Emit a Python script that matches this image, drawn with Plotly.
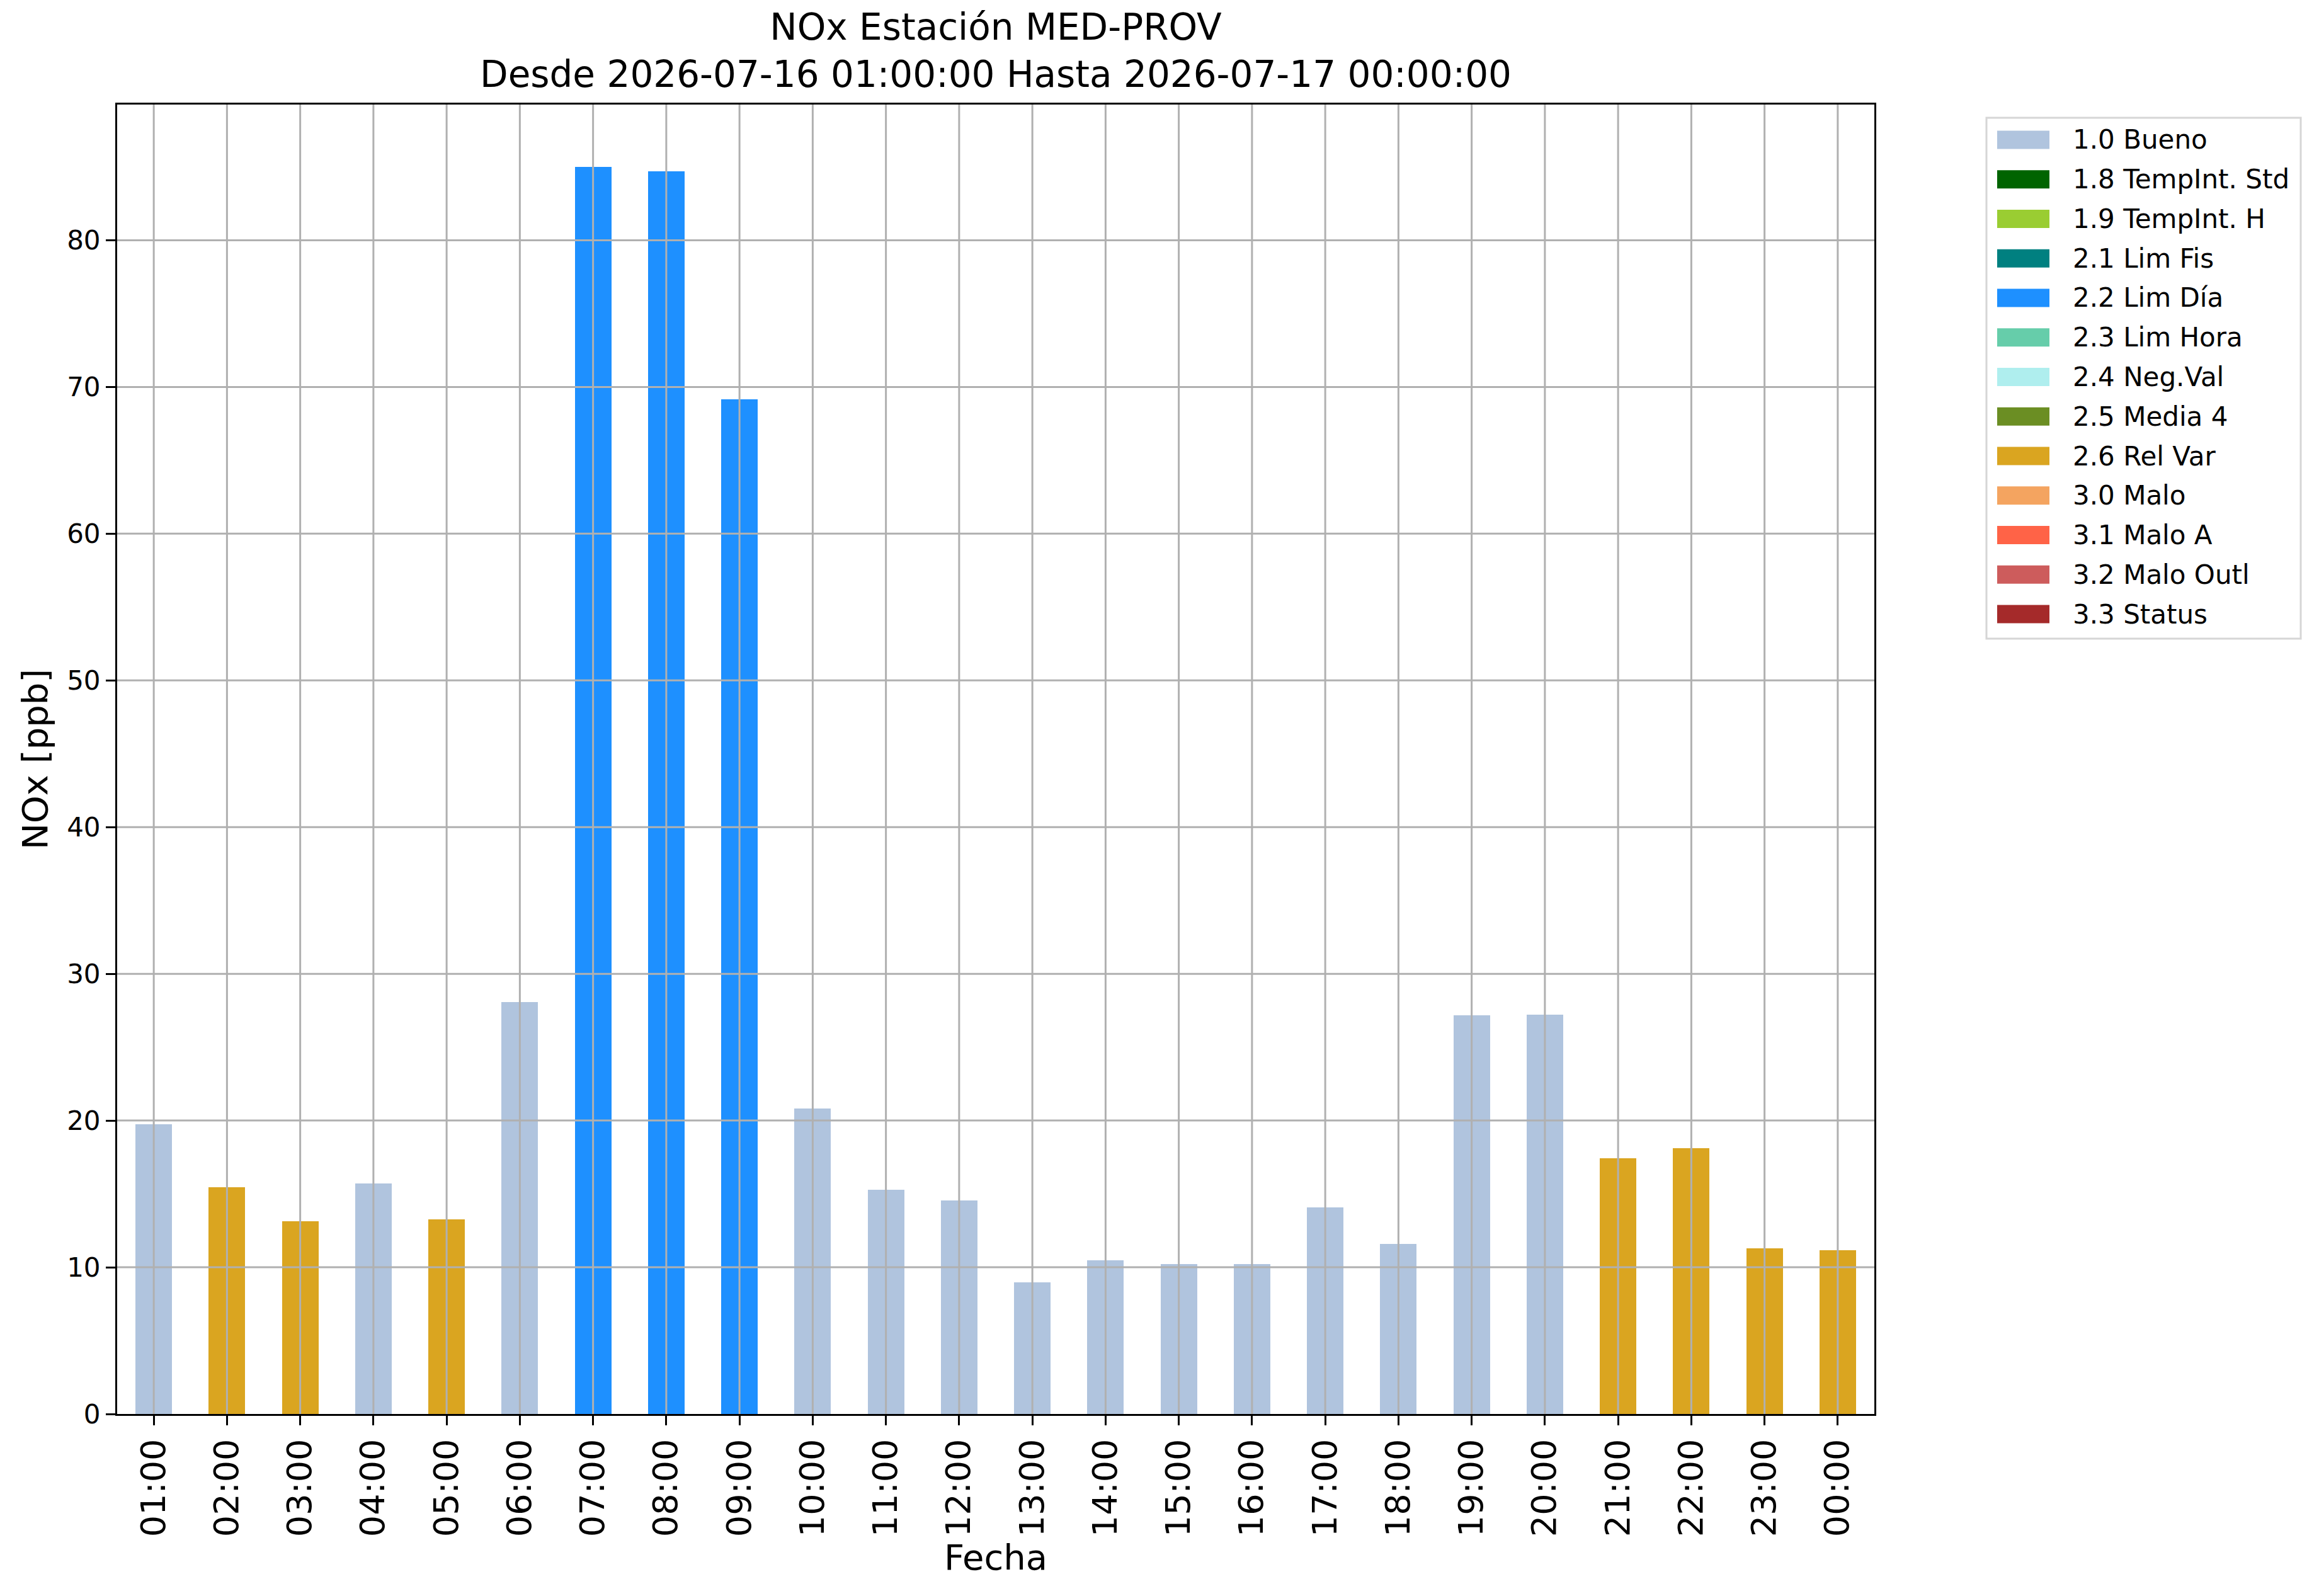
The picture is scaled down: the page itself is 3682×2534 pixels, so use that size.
import plotly.graph_objects as go

# hourly NOx values (ppb) and their validation flag
hours = ["01:00", "02:00", "03:00", "04:00", "05:00", "06:00", "07:00", "08:00",
         "09:00", "10:00", "11:00", "12:00", "13:00", "14:00", "15:00", "16:00",
         "17:00", "18:00", "19:00", "20:00", "21:00", "22:00", "23:00", "00:00"]
nox = [19.74, 15.45, 13.13, 15.70, 13.27, 28.08, 85.00, 84.68,
       69.15, 20.81, 15.29, 14.55, 8.99, 10.46, 10.20, 10.20,
       14.08, 11.58, 27.18, 27.23, 17.45, 18.10, 11.27, 11.16]
flags = ["1.0", "2.6", "2.6", "1.0", "2.6", "1.0", "2.2", "2.2",
         "2.2", "1.0", "1.0", "1.0", "1.0", "1.0", "1.0", "1.0",
         "1.0", "1.0", "1.0", "1.0", "2.6", "2.6", "2.6", "2.6"]

flag_codes = ["1.0", "1.8", "1.9", "2.1", "2.2", "2.3", "2.4", "2.5", "2.6",
              "3.0", "3.1", "3.2", "3.3"]
flag_names = ["Bueno", "TempInt. Std", "TempInt. H", "Lim Fis", "Lim Día",
              "Lim Hora", "Neg.Val", "Media 4", "Rel Var", "Malo", "Malo A",
              "Malo Outl", "Status"]
flag_colors = ["#B0C4DE", "#006400", "#9ACD32", "#008080", "#1E90FF", "#66CDAA",
               "#AFEEEE", "#6B8E23", "#DAA520", "#F4A460", "#FF6347", "#CD5C5C",
               "#A52A2A"]

y_ticks = [0, 10, 20, 30, 40, 50, 60, 70, 80]

FONT = "DejaVu Sans"
W, H = 3682, 2534
L, R, T, B = 186, 2976, 166, 2245  # plot area in pixels


def px_x(p):
    return (p - L) / (R - L)


def px_y(p):
    return (B - p) / (B - T)


fig = go.Figure()

for code, name, color in zip(flag_codes, flag_names, flag_colors):
    vals = [v if f == code else None for v, f in zip(nox, flags)]
    if all(v is None for v in vals):
        continue
    fig.add_trace(go.Bar(
        x=hours, y=vals, width=0.5, name=f"{code} {name}",
        marker=dict(color=color, line=dict(width=0)), showlegend=False,
    ))

shapes = []
grid = dict(color="#b0b0b0", width=3)
for h in hours:
    shapes.append(dict(type="line", xref="x", yref="paper", x0=h, x1=h, y0=0, y1=1,
                       line=grid, layer="above"))
for t in y_ticks[1:]:
    shapes.append(dict(type="line", xref="paper", yref="y", x0=0, x1=1, y0=t, y1=t,
                       line=grid, layer="above"))

# legend drawn by hand so the colour patches keep matplotlib's proportions
shapes.append(dict(type="rect", xref="paper", yref="paper",
                   x0=px_x(3154), x1=px_x(3653), y0=px_y(1014), y1=px_y(187),
                   line=dict(color="#d6d6d6", width=3), fillcolor="white"))
annotations = []
for i, (code, name, color) in enumerate(zip(flag_codes, flag_names, flag_colors)):
    yc = 222 + i * 62.75
    shapes.append(dict(type="rect", xref="paper", yref="paper",
                       x0=px_x(3171), x1=px_x(3254), y0=px_y(yc + 14.5), y1=px_y(yc - 14.5),
                       line=dict(width=0), fillcolor=color))
    annotations.append(dict(xref="paper", yref="paper", x=px_x(3289), y=px_y(yc),
                            xanchor="left", yanchor="middle", showarrow=False,
                            text=f"{code} {name}", font=dict(family=FONT, size=42, color="black")))

fig.update_layout(
    width=W, height=H,
    margin=dict(l=L, r=W - R, t=T, b=H - B, pad=0),
    paper_bgcolor="white", plot_bgcolor="white",
    barmode="overlay", bargap=0,
    font=dict(family=FONT, color="black"),
    title=dict(
        text="NOx Estación MED-PROV<br>Desde 2026-07-16 01:00:00 Hasta 2026-07-17 00:00:00",
        x=0.5, xref="paper", xanchor="center",
        y=1 - 63 / H, yref="container", yanchor="top",
        font=dict(family=FONT, size=58, color="black"),
    ),
    shapes=shapes,
    annotations=annotations,
    showlegend=False,
)

fig.update_xaxes(
    type="category", range=[-0.5, len(hours) - 0.5],
    showgrid=False, showline=True, mirror=True, linecolor="black", linewidth=3,
    ticks="outside", ticklen=15, tickwidth=3, tickcolor="black",
    tickangle=-90, tickfont=dict(family=FONT, size=54, color="black"),
    title=dict(text="Fecha", font=dict(family=FONT, size=56, color="black"), standoff=12),
)
fig.update_yaxes(
    range=[0, max(nox) * 1.05], tickvals=y_ticks,
    showgrid=False, zeroline=False, showline=True, mirror=True, linecolor="black", linewidth=3,
    ticks="outside", ticklen=15, tickwidth=3, tickcolor="black",
    tickfont=dict(family=FONT, size=42, color="black"),
    title=dict(text="NOx [ppb]", font=dict(family=FONT, size=56, color="black"), standoff=13),
)

fig.write_html("out.html", config={"displayModeBar": False},
               post_script="document.body.style.margin='0';")
